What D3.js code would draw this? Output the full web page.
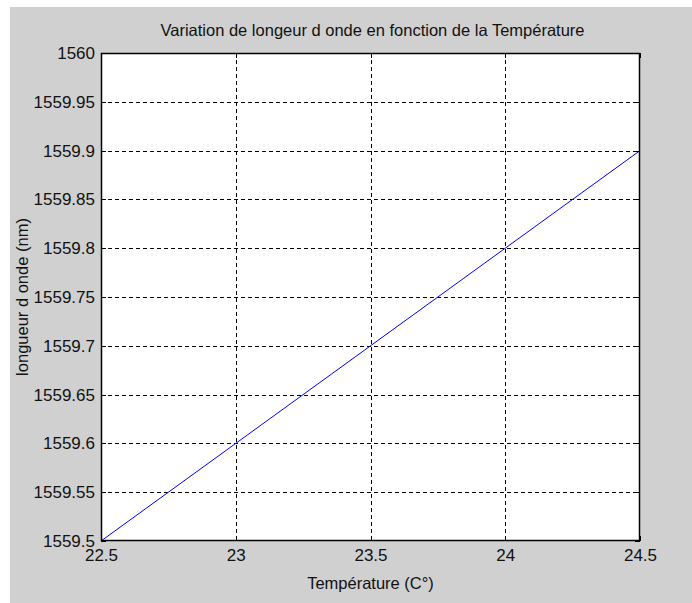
<!DOCTYPE html>
<html>
<head>
<meta charset="utf-8">
<script src="https://cdn.jsdelivr.net/npm/d3@7"></script>
<style>
  html, body { margin: 0; padding: 0; background: #ffffff; }
  svg { display: block; }
  text { font-family: "Liberation Sans Narrow", "Arial Narrow", "Liberation Sans", sans-serif; fill: #111; }
</style>
</head>
<body>
<svg id="chart" width="692" height="603"></svg>
<script>
// Temperature (°C) and measured wavelength (nm)
const temperature = [22.5, 23, 23.5, 24, 24.5];
const wavelength = [1559.5, 1559.6, 1559.7, 1559.8, 1559.9];

const xTicks = [22.5, 23, 23.5, 24, 24.5];
const yTicks = [1559.5, 1559.55, 1559.6, 1559.65, 1559.7, 1559.75, 1559.8, 1559.85, 1559.9, 1559.95, 1560];

const titleText = "Variation de longeur d onde en fonction de la Température";
const xLabelText = "Température (C°)";
const yLabelText = "longueur d onde (nm)";

const W = 692, H = 603;
const plot = { left: 101, top: 53, right: 640, bottom: 541 };

const svg = d3.select("#chart");

// figure background
svg.append("rect").attr("x", 10).attr("y", 7).attr("width", W - 10).attr("height", H - 7).attr("fill", "#d0d0d0");

const x = d3.scaleLinear().domain([22.5, 24.5]).range([plot.left, plot.right]);
const y = d3.scaleLinear().domain([1559.5, 1560]).range([plot.bottom, plot.top]);

// axes area
svg.append("rect")
  .attr("x", plot.left).attr("y", plot.top)
  .attr("width", plot.right - plot.left).attr("height", plot.bottom - plot.top)
  .attr("fill", "#ffffff");

// grid
const grid = svg.append("g").attr("stroke", "#000").attr("stroke-width", 1).attr("stroke-dasharray", "4,3").attr("shape-rendering", "crispEdges");
xTicks.slice(1, -1).forEach(t => {
  grid.append("line").attr("x1", Math.round(x(t)) + 0.5).attr("x2", Math.round(x(t)) + 0.5)
    .attr("y1", plot.top).attr("y2", plot.bottom);
});
yTicks.slice(1, -1).forEach(t => {
  grid.append("line").attr("y1", Math.round(y(t)) + 0.5).attr("y2", Math.round(y(t)) + 0.5)
    .attr("x1", plot.left).attr("x2", plot.right);
});

// data line
const line = d3.line().x((d, i) => x(temperature[i])).y(d => y(d));
svg.append("path").datum(wavelength)
  .attr("d", line).attr("fill", "none").attr("stroke", "#0000ff").attr("stroke-width", 1);

// axes with inward ticks on all four sides
const tickLen = 5;
const axB = d3.axisBottom(x).tickValues(xTicks).tickSize(-tickLen).tickPadding(8).tickFormat(d3.format("~g"));
const axT = d3.axisTop(x).tickValues(xTicks).tickSize(-tickLen).tickFormat("");
const axL = d3.axisLeft(y).tickValues(yTicks).tickSize(-tickLen).tickPadding(6).tickFormat(d3.format("~g"));
const axR = d3.axisRight(y).tickValues(yTicks).tickSize(-tickLen).tickFormat("");

function style(g) {
  g.select(".domain").remove();
  g.selectAll(".tick line").attr("stroke", "#000").attr("shape-rendering", "crispEdges");
  g.selectAll("text").attr("font-size", 17).attr("font-family", null);
  g.attr("font-family", null);
}
svg.append("g").attr("transform", `translate(0,${plot.bottom})`).call(axB).call(style);
svg.append("g").attr("transform", `translate(0,${plot.top})`).call(axT).call(style);
svg.append("g").attr("transform", `translate(${plot.left},0)`).call(axL).call(style);
svg.append("g").attr("transform", `translate(${plot.right},0)`).call(axR).call(style);

// frame
svg.append("rect")
  .attr("x", plot.left + 0.5).attr("y", plot.top + 0.5)
  .attr("width", plot.right - plot.left - 1).attr("height", plot.bottom - plot.top - 1)
  .attr("fill", "none").attr("stroke", "#000").attr("stroke-width", 1.5);

// labels
svg.append("text").attr("x", (plot.left + plot.right) / 2 + 2).attr("y", 36)
  .attr("text-anchor", "middle").attr("font-size", 16.5).text(titleText);
svg.append("text").attr("x", (plot.left + plot.right) / 2).attr("y", 589)
  .attr("text-anchor", "middle").attr("font-size", 16.5).text(xLabelText);
svg.append("text").attr("transform", `translate(28,${(plot.top + plot.bottom) / 2}) rotate(-90)`)
  .attr("text-anchor", "middle").attr("font-size", 16.5).text(yLabelText);
</script>
</body>
</html>
